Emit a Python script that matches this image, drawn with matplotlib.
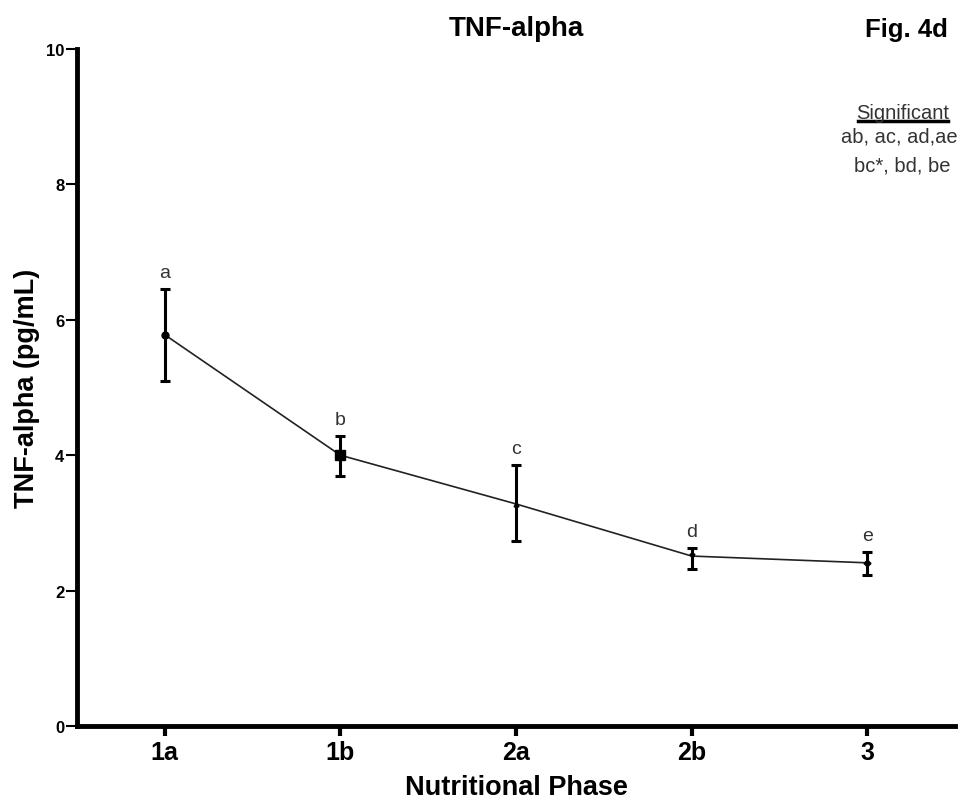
import matplotlib
matplotlib.use("Agg")
import matplotlib.pyplot as plt
from matplotlib import font_manager as fm

phases = ["1a", "1b", "2a", "2b", "3"]
means = [5.78, 4.00, 3.28, 2.51, 2.41]
err_low = [5.10, 3.69, 2.73, 2.32, 2.23]
err_high = [6.45, 4.28, 3.86, 2.63, 2.57]
letters = ["a", "b", "c", "d", "e"]
markers = ["o", "s", "^", "v", "D"]
marker_sizes = [5, 7, 3.5, 3.5, 3.5]
yticks = [0, 2, 4, 6, 8, 10]
sig_lines = ["ab, ac, ad,ae", "bc*, bd, be"]

names = {f.name for f in fm.fontManager.ttflist}
narrow = "Liberation Sans Narrow" if "Liberation Sans Narrow" in names else "Liberation Sans"
plt.rcParams["font.family"] = ["Liberation Sans", "DejaVu Sans"]

fig = plt.figure(figsize=(9.6, 8.04), dpi=100)
ax = fig.add_axes([0.080, 0.0958, 0.915, 0.842])

x = list(range(len(phases)))
ax.plot(x, means, color="#222222", lw=1.2, zorder=2)
for i in x:
    ax.errorbar(i, means[i], yerr=[[means[i] - err_low[i]], [err_high[i] - means[i]]],
                fmt="none", ecolor="black", elinewidth=2.2, capsize=3.8, capthick=2.2, zorder=3)
    ax.plot(i, means[i], marker=markers[i], ms=marker_sizes[i], color="black", zorder=4)
    ax.text(i, err_high[i] + 0.12, letters[i], ha="center", va="bottom",
            fontsize=14, color="#333333")

ax.set_xlim(-0.5, 4.5)
ax.set_ylim(0, 10)
ax.set_xticks(x)
ax.set_xticklabels(phases, fontsize=18, fontweight="bold", family=narrow)
ax.set_yticks(yticks)
ax.set_yticklabels([str(t) for t in yticks], fontsize=12, fontweight="bold", family=narrow)
ax.spines["top"].set_visible(False)
ax.spines["right"].set_visible(False)
ax.spines["left"].set_linewidth(3.5)
ax.spines["bottom"].set_linewidth(3.5)
ax.tick_params(axis="x", length=7, width=3, pad=3)
ax.tick_params(axis="y", length=8, width=1.5, pad=1)

ax.set_xlabel("Nutritional Phase", fontsize=19.5, fontweight="bold", family=narrow, labelpad=7)
ax.set_ylabel("TNF-alpha (pg/mL)", fontsize=19.5, fontweight="bold")
ax.yaxis.set_label_coords(-0.042, 0.5)
ax.set_title("TNF-alpha", fontsize=20, fontweight="bold", pad=10)

fig.text(0.987, 0.963, "Fig. 4d", ha="right", va="center", fontsize=18.5, fontweight="bold")
fig.text(0.940, 0.859, "Significant", ha="center", va="center", fontsize=14.5, color="#333333")
fig.add_artist(plt.Line2D([0.894, 0.9875], [0.848, 0.848], color="black", lw=2.5,
                          transform=fig.transFigure))
fig.text(0.937, 0.830, sig_lines[0], ha="center", va="center", fontsize=14.5, color="#333333")
fig.text(0.940, 0.793, sig_lines[1], ha="center", va="center", fontsize=14.5, color="#333333")

fig.savefig("out.png", dpi=100)
